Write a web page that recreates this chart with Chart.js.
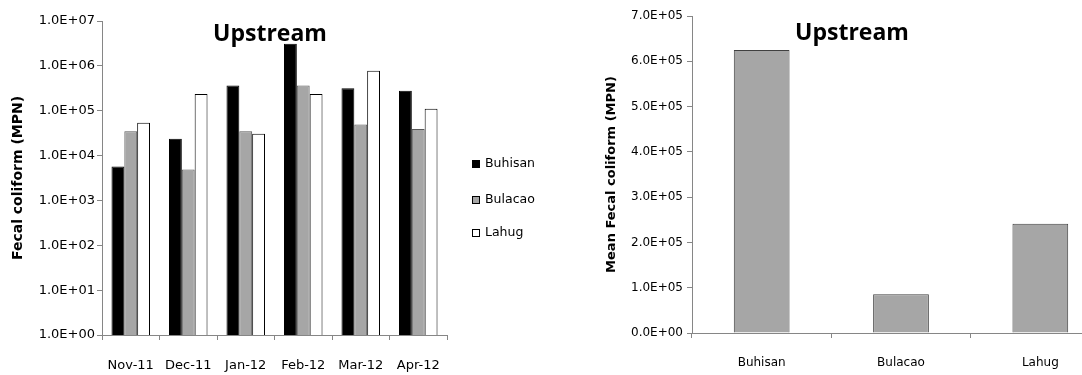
<!DOCTYPE html>
<html>
<head>
<meta charset="utf-8">
<script src="https://cdn.jsdelivr.net/npm/chart.js@4.4.1/dist/chart.umd.min.js"></script>
<style>
  html, body { margin: 0; padding: 0; background: #fff; overflow: hidden; width: 1082px; height: 375px; }
  .panel { position: absolute; top: 0; }
</style>
</head>
<body>
<div class="panel" style="left:0px"><canvas id="left" width="560" height="375"></canvas></div>
<div class="panel" style="left:580px"><canvas id="right" width="540" height="375"></canvas></div>
<script>
// monthly fecal coliform (MPN), upstream stations
const months = ['Nov-11', 'Dec-11', 'Jan-12', 'Feb-12', 'Mar-12', 'Apr-12'];
const buhisan = [5700, 23700, 367000, 3100000, 316000, 279000];
const bulacao = [35000, 4900, 35000, 367000, 49000, 39000];
const lahug = [54000, 235000, 30700, 235000, 780000, 110000];

// mean per station
const sites = ['Buhisan', 'Bulacao', 'Lahug'];
const meanValues = [625000, 85500, 241000];

const logTicks = [1, 10, 100, 1e3, 1e4, 1e5, 1e6, 1e7];

const axisGray = '#868686';
const font = 'DejaVu Sans';
const titleFont = 'Open Sans';

function sci(v) {
    if (v === 0) return '0.0E+00';
    const e = Math.floor(Math.log10(v) + 1e-9);
    const m = v / Math.pow(10, e);
    return m.toFixed(1) + 'E' + (e < 0 ? '-' : '+') + String(Math.abs(e)).padStart(2, '0');
}

const panelTitle = {
    id: 'panelTitle',
    afterDraw(chart, args, opts) {
        const { ctx } = chart;
        ctx.save();
        ctx.font = 'bold 23px "' + titleFont + '"';
        ctx.fillStyle = '#000';
        ctx.textAlign = 'center';
        ctx.textBaseline = 'alphabetic';
        ctx.fillText(opts.text, opts.x, opts.y);
        ctx.restore();
    }
};

const sideLegend = {
    id: 'sideLegend',
    afterDraw(chart, args, opts) {
        if (!opts.show) return;
        const { ctx } = chart;
        ctx.save();
        ctx.font = '12.5px "' + font + '"';
        ctx.textBaseline = 'middle';
        chart.data.datasets.forEach((ds, i) => {
            const y = opts.y[i];
            ctx.fillStyle = ds.backgroundColor;
            ctx.fillRect(opts.x, y - 4, 8, 8);
            ctx.strokeStyle = '#000';
            ctx.lineWidth = 1;
            ctx.strokeRect(opts.x + 0.5, y - 3.5, 7, 7);
            ctx.fillStyle = '#000';
            ctx.fillText(ds.label, opts.x + 13, y);
        });
        ctx.restore();
    }
};

new Chart(document.getElementById('left'), {
    type: 'bar',
    data: {
        labels: months,
        datasets: [
            { label: 'Buhisan', data: buhisan, backgroundColor: '#000000', borderColor: '#000000', borderWidth: 1 },
            { label: 'Bulacao', data: bulacao, backgroundColor: '#a6a6a6', borderColor: '#595959', borderWidth: 1 },
            { label: 'Lahug', data: lahug, backgroundColor: '#ffffff', borderColor: '#000000', borderWidth: 1 }
        ]
    },
    options: {
        responsive: false,
        animation: false,
        layout: { padding: { top: 21, right: 113, left: 0, bottom: 0 } },
        datasets: { bar: { categoryPercentage: 0.67, barPercentage: 1 } },
        plugins: {
            legend: { display: false },
            tooltip: { enabled: false },
            panelTitle: { text: 'Upstream', x: 270, y: 41 },
            sideLegend: { show: true, x: 472, y: [164, 200, 233] }
        },
        scales: {
            x: {
                afterFit: (s) => { s.height = 40; },
                grid: { drawOnChartArea: false, drawTicks: true, tickLength: 5, color: axisGray, offset: true },
                border: { color: axisGray },
                ticks: { color: '#000', padding: 18, maxRotation: 0, font: { family: font, size: 13 } }
            },
            y: {
                type: 'logarithmic',
                min: 1,
                max: 1e7,
                afterFit: (s) => { s.width = 102; },
                afterBuildTicks: (s) => { s.ticks = logTicks.map(v => ({ value: v })); },
                grid: { drawOnChartArea: false, drawTicks: true, tickLength: 5, color: axisGray },
                border: { color: axisGray },
                ticks: { color: '#000', padding: 2, font: { family: font, size: 13 }, callback: (v) => sci(v) },
                title: { display: true, text: 'Fecal coliform (MPN)', color: '#000', padding: { top: 10 }, font: { family: font, size: 14, weight: 'bold' } }
            }
        }
    },
    plugins: [panelTitle, sideLegend]
});

new Chart(document.getElementById('right'), {
    type: 'bar',
    data: {
        labels: sites,
        datasets: [
            { label: 'Mean', data: meanValues, backgroundColor: '#a6a6a6', borderColor: '#404040', borderWidth: 1 }
        ]
    },
    options: {
        responsive: false,
        animation: false,
        layout: { padding: { top: 16, right: 10, left: 0, bottom: 0 } },
        datasets: { bar: { categoryPercentage: 0.4, barPercentage: 1 } },
        plugins: {
            legend: { display: false },
            tooltip: { enabled: false },
            panelTitle: { text: 'Upstream', x: 272, y: 40 },
            sideLegend: { show: false }
        },
        scales: {
            x: {
                afterFit: (s) => { s.height = 42; },
                grid: { drawOnChartArea: false, drawTicks: true, tickLength: 5, color: axisGray, offset: true },
                border: { color: axisGray },
                ticks: { color: '#000', padding: 18, maxRotation: 0, font: { family: font, size: 12 } }
            },
            y: {
                min: 0,
                max: 700000,
                afterFit: (s) => { s.width = 112; },
                grid: { drawOnChartArea: false, drawTicks: true, tickLength: 5, color: axisGray },
                border: { color: axisGray },
                ticks: { stepSize: 100000, color: '#000', padding: 4, font: { family: font, size: 12 }, callback: (v) => sci(v) },
                title: { display: true, text: 'Mean Fecal coliform (MPN)', color: '#000', padding: { top: 24 }, font: { family: font, size: 13, weight: 'bold' } }
            }
        }
    },
    plugins: [panelTitle, sideLegend]
});
</script>
</body>
</html>
